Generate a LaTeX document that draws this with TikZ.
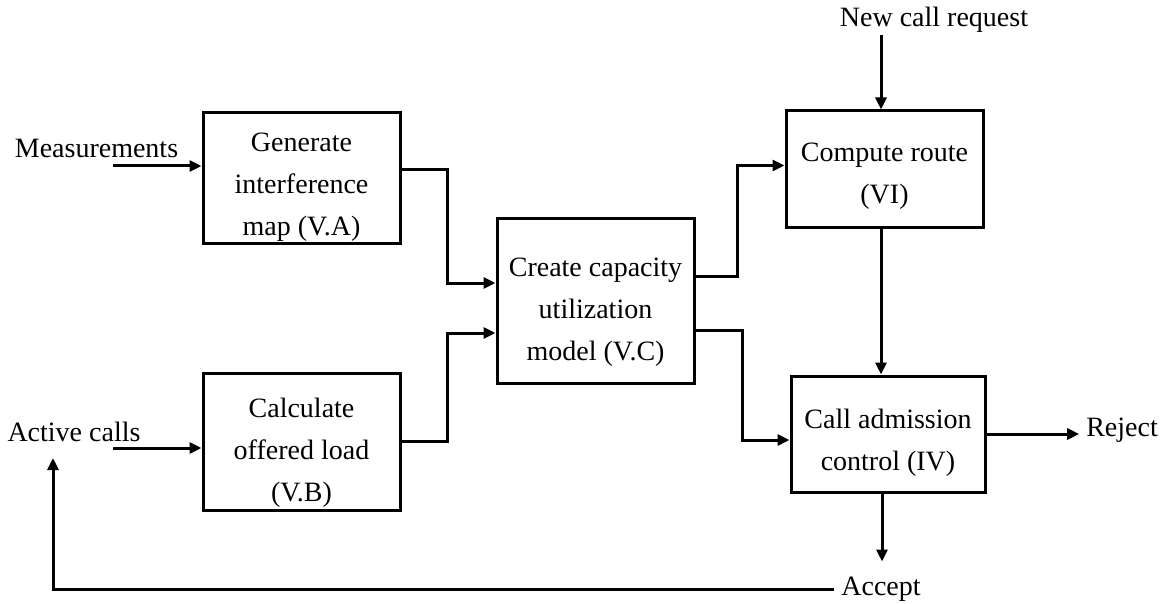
\documentclass[tikz,border=0pt]{standalone}
\usepackage{fontspec}
\setmainfont{Liberation Serif}
\usetikzlibrary{arrows.meta}

\begin{document}
\begin{tikzpicture}[x=0.5pt,y=-0.5pt,
    every node/.style={font=\fontsize{14}{21}\selectfont},
    block/.style={draw,line width=1.5pt,minimum width=98.5pt,inner sep=0pt},
    boxtext/.style={align=center,inner sep=0pt},
    flow/.style={line width=1.5pt,-{Triangle[length=6pt,width=5.5pt]}}]

    \useasboundingbox (0,0) rectangle (1171,604);

        \node[block,minimum height=65pt,
              label={[boxtext,yshift=-4.5pt]center:Generate\\interference\\map (V.A)}] (va) at (301.5,178) {};
        \node[block,minimum height=68.5pt,
              label={[boxtext,yshift=-5.5pt]center:Calculate\\offered load\\(V.B)}] (vb) at (301.5,441.5) {};
        \node[block,minimum height=82pt,
              label={[boxtext,yshift=-5.5pt]center:Create capacity\\utilization\\model (V.C)}] (vc) at (595.5,301) {};
        \node[block,minimum height=58.5pt,
              label={[boxtext,yshift=-3.5pt]center:Compute route\\(VI)}] (vi) at (884.5,169.5) {};
        \node[block,minimum height=58pt,minimum width=97pt,
              label={[boxtext,yshift=-4.5pt]center:Call admission\\control (IV)}] (iv) at (888,434) {};

        \node (meas)    at (96.5,148) {Measurements};
        \node (active)  at (74,432)   {Active calls};
        \node (newcall) at (934,20)   {New call request};
        \node (reject)  at (1122,430) {Reject};
        \node (accept)  at (881,589)  {Accept};

        \coordinate (measin) at (113,166);
        \coordinate (actin)  at (113,448);
        \coordinate (newin)  at (881,35);
        \coordinate (actret) at (53,458);

        \draw[flow] (measin) -- (measin -| va.west);
        \draw[flow] (actin) -- (actin -| vb.west);
        \draw[flow] ([yshift=4pt]va.east) -- ++(23pt,0) |- ([yshift=9pt]vc.west);
        \draw[flow] (vb.east) -- ++(23pt,0) |- ([yshift=-16pt]vc.west);
        \draw[flow] ([yshift=12.5pt]vc.east) -- ++(21pt,0) |- ([yshift=2pt]vi.west);
        \draw[flow] ([yshift=-14.5pt]vc.east) -- ++(23.5pt,0) |- ([yshift=-3pt]iv.west);
        \draw[flow] (newin) -- (newin |- vi.north);
        \draw[flow] ([xshift=-1.75pt]vi.south) -- ([xshift=-1.75pt]vi.south |- iv.north);
        \draw[flow] (iv.east) -- (iv.east -| reject.west);
        \draw[flow] ([xshift=-3pt]iv.south) -- ++(0,-34pt);
        \draw[flow] (accept.west) -| (actret);

\end{tikzpicture}
\end{document}
